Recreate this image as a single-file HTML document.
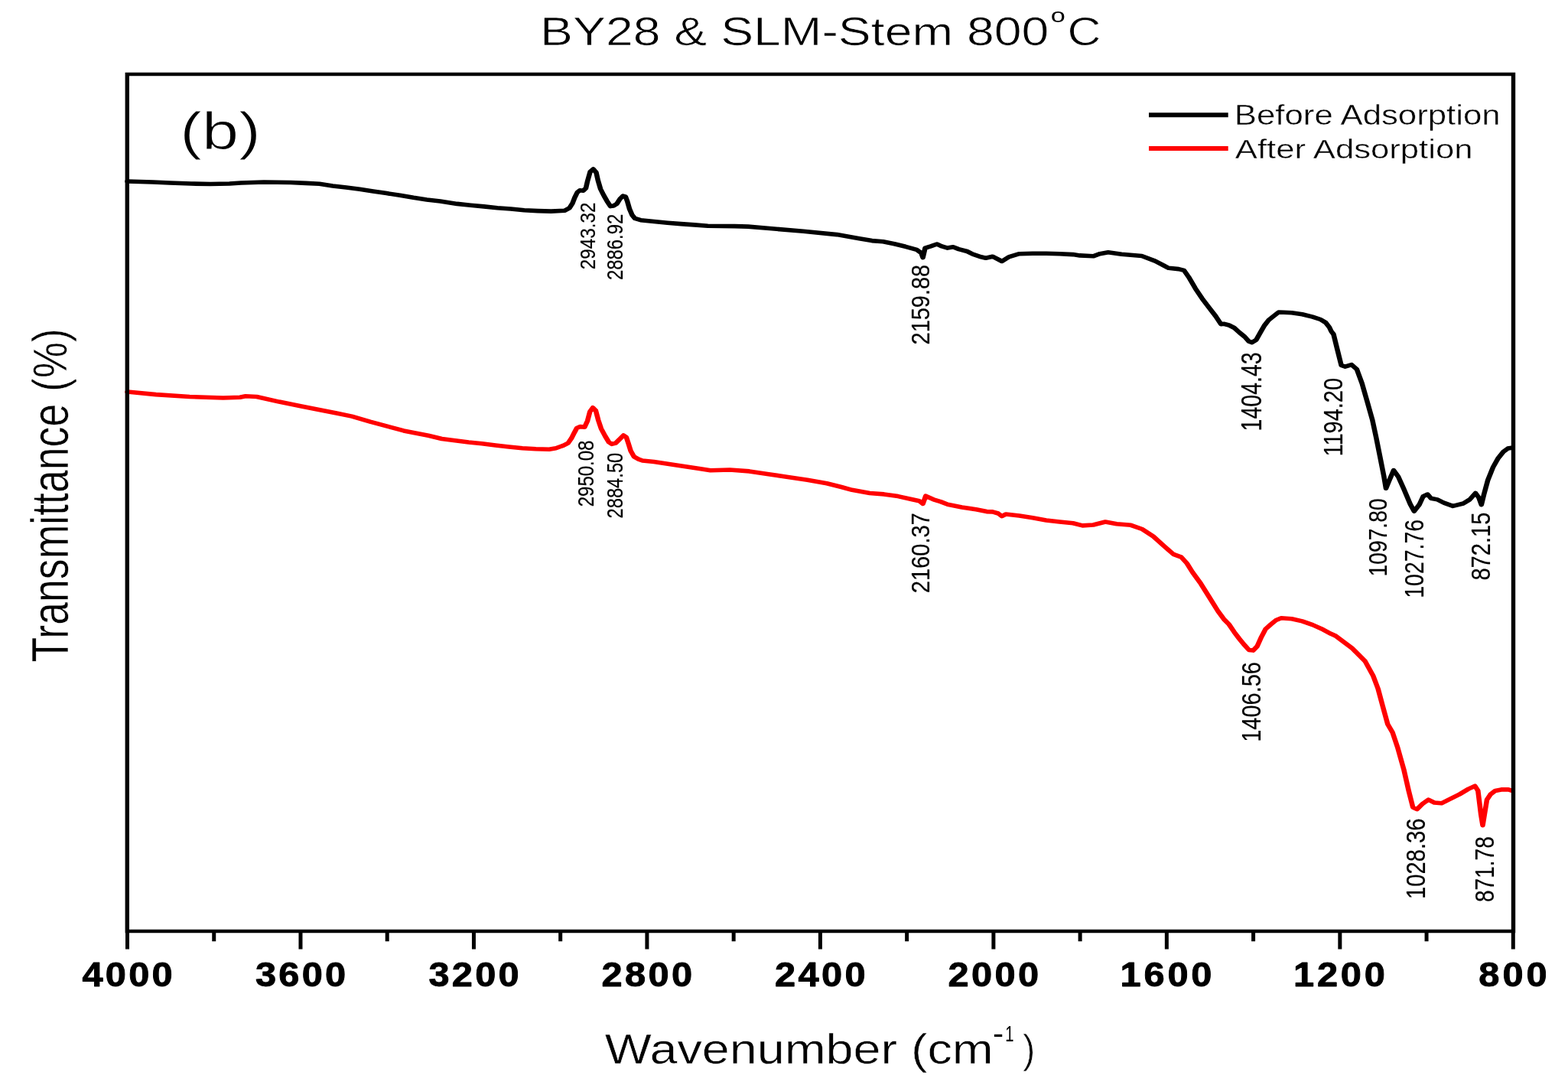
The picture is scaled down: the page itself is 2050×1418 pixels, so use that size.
<!DOCTYPE html><html><head><meta charset="utf-8"><title>BY28 &amp; SLM-Stem 800°C FTIR</title>
<style>html,body{margin:0;padding:0;background:#fff;width:2050px;height:1418px;overflow:hidden}svg{display:block}text{font-family:"Liberation Sans",Arial,sans-serif}</style></head><body>
<svg width="2050" height="1418" viewBox="0 0 2050 1418">
<rect width="2050" height="1418" fill="#fff"/>
<g transform="scale(1.17 1)" fill="none" stroke-linejoin="round" stroke-linecap="round">
<polyline stroke="#000" stroke-width="5.6" points="142.31,237 170.94,238 189.74,239 213.68,240 235.04,240.5 256.41,240 269.23,239 282.05,238.5 294.87,238 324.79,238.5 341.88,239.4 356.92,240.3 371.79,242.9 386.92,245.1 401.88,247.3 416.92,250 431.97,252.6 446.92,255.2 461.97,258.3 476.92,260.9 491.97,263.1 510.77,266.4 525.73,268.2 540.77,269.9 555.73,271.7 570.77,273 585.81,274.8 600.77,275.6 615.81,276.1 630.77,275.3 636.32,271.8 639.74,265.6 642.14,258.3 645.04,251.5 647.95,248.7 651.79,249.2 654.7,245.9 656.58,236.3 659.49,224.4 662.91,221 666.24,225.5 668.21,235.7 671.03,247 674.96,256 678.29,262.8 682.14,269.6 685.56,269 689.4,266.2 692.74,260 696.15,256 699.06,257.1 700.94,262.8 703.42,273 706.24,280.8 709.4,285.4 715.9,287.7 730.85,289.5 745.9,291.2 760.85,292.6 775.9,293.9 790.94,295.2 820.94,295.6 835.9,296.1 860.09,298.5 897.69,302.2 935.21,306.6 960.17,311.7 974.36,314.6 986.84,315.7 999.4,318.7 1011.88,322.3 1024.36,326.3 1029.4,330.7 1031.28,336.6 1033.76,324.1 1040,321.9 1046.92,319 1052.48,321.9 1058.8,324.1 1065.04,322.7 1071.28,325.6 1080.68,328.5 1086.92,332.2 1096.24,335.8 1101.54,337.2 1109.06,335.2 1119.57,341.5 1127.78,335.6 1139.06,331.7 1154.02,331.2 1169.06,331.2 1184.1,331.7 1199.06,332.6 1206.58,333.9 1221.62,334.8 1229.06,331.7 1238.29,329.7 1253.25,332.3 1275.81,334.5 1290.77,341.1 1305.81,350.3 1317.09,351.6 1323.08,353.4 1328.29,362.1 1335.81,377.1 1343.33,390.2 1350.85,401.7 1358.38,413.1 1364.36,423.6 1367.52,423.3 1373.33,425 1379.23,428.5 1385.04,434.6 1390.85,440.1 1395.56,446.2 1399.06,447.6 1403.68,444.2 1408.38,434.6 1413.08,425.1 1417.69,418.2 1423.59,412.8 1428.8,408 1434.7,408.3 1443.42,408.7 1455.13,410.7 1466.75,414.1 1475.56,417.5 1481.37,421.6 1485.47,427.8 1487.61,433 1490.17,436.9 1494.44,457.2 1498.8,477.5 1503.16,479.2 1510.34,476.7 1516.15,482.6 1521.97,501.2 1527.78,524.9 1533.5,548.6 1537.86,572.3 1542.22,597.7 1546.5,623 1548.72,638.3 1552.31,628.1 1557.35,614.6 1562.48,623 1568.38,638.3 1575.81,658.8 1580.17,668.1 1585.9,659.7 1590.26,648.7 1595.3,646.1 1598.97,651.2 1606.15,652.9 1613.42,657.1 1623.5,661.4 1635.13,658 1642.31,652.9 1648.8,644.4 1652.48,650.4 1655.38,659.7 1658.21,646.1 1662.56,627.5 1668.38,610.6 1674.1,598.8 1679.91,590.3 1684.96,586.1 1689.32,585.2"/>
<polyline stroke="#f00" stroke-width="5.6" points="142.31,512 174.27,515.6 211.79,518.5 249.32,520 268.12,519.3 274.36,517.8 286.84,518.5 311.88,525.1 336.92,531 361.88,536.8 376.07,540 393.16,544.1 413.59,551.2 451.11,562.9 478.63,569.3 493.68,573.5 508.63,575.8 523.68,578 538.63,579.7 553.68,581.9 568.72,584 583.68,585.8 598.72,586.7 613.68,587.2 621.2,585.8 626.5,583.5 629.32,582.3 634.79,579.1 638.55,572.8 641.88,565.2 644.53,559.5 648.38,557.6 653.25,558.2 656.5,549.9 659.23,537.9 662.48,532.8 665.73,536.6 668.46,548.7 671.71,560.1 676.07,569.6 680.34,577.9 683.59,580.4 687.95,579.1 692.31,574.1 696.67,569 699.91,571.5 702.05,579.1 704.79,589.3 708.55,596.9 713.5,600.1 717.95,602 730.77,603.5 750.43,607 782.99,612.8 793.85,614.7 815.47,614 837.18,615.9 858.89,619.7 880.51,623.5 902.22,627.3 923.93,631.8 940.17,636.5 952.05,640.3 971.88,644.5 987.69,645.9 1003.5,648.6 1019.4,652.8 1027.26,654.7 1031.28,658.4 1034.44,648.2 1043.16,652.8 1051.03,655.6 1058.97,659.3 1074.87,663 1090.68,665.8 1102.56,668.6 1109.06,668.9 1115.38,671 1119.57,674.6 1124.02,672 1139.06,674.1 1154.02,676.8 1169.06,679.9 1184.1,682 1199.06,683.8 1209.57,686.9 1221.62,686 1235.13,682 1247.86,684.7 1263.68,686.3 1276.24,691.5 1288.72,701 1301.2,714.1 1311.28,724.4 1320,728.1 1326.24,736.1 1332.48,747.8 1341.71,762.6 1351.37,780.6 1361.03,798.7 1367.52,809.1 1373.33,816 1379.23,826.2 1385.04,835.1 1390.85,843.3 1395.56,849.4 1400.26,850.1 1404.87,844.6 1409.57,832.3 1414.19,822.1 1420.09,816 1425.9,810.5 1431.71,807.8 1443.42,808.8 1455.13,811.9 1466.75,816.6 1478.46,822.8 1487.18,828.3 1492.82,831.3 1510.85,847.1 1525.38,864.1 1534.36,883.1 1539.83,900 1545.21,923.3 1550.68,946.6 1556.07,957.2 1561.54,976.2 1568.72,1005.9 1574.1,1033.4 1578.8,1055 1583.42,1057.6 1589.49,1050.6 1596.15,1045.1 1602.82,1049 1610.77,1049.8 1617.52,1045.9 1630.85,1038.1 1640.85,1031.1 1648.21,1027.2 1651.54,1033.4 1654.87,1064.6 1656.84,1078.7 1658.8,1064.6 1661.54,1045.1 1665.56,1038.1 1670.85,1033.4 1677.52,1031.9 1685.56,1031.9 1689.57,1033.4"/>
</g>
<path fill="#000" d="M163.6 94.7h1817.6v4.6h-1817.6zM163.6 1214.7h1817.6v4.6h-1817.6zM163.6 94.7h5.4v1124.6h-5.4zM1975.8 94.7h5.4v1124.6h-5.4zM164 1217h5v23.5h-5zM277.24 1217h5v13.3h-5zM390.48 1217h5v23.5h-5zM503.71 1217h5v13.3h-5zM616.95 1217h5v23.5h-5zM730.19 1217h5v13.3h-5zM843.42 1217h5v23.5h-5zM956.66 1217h5v13.3h-5zM1069.9 1217h5v23.5h-5zM1183.14 1217h5v13.3h-5zM1296.38 1217h5v23.5h-5zM1409.61 1217h5v13.3h-5zM1522.85 1217h5v23.5h-5zM1636.09 1217h5v13.3h-5zM1749.33 1217h5v23.5h-5zM1862.56 1217h5v13.3h-5zM1975.8 1217h5v23.5h-5z"/>
<path d="M1502 150.3H1605.7" stroke="#000" stroke-width="6"/>
<path d="M1502 194H1605.7" stroke="#f00" stroke-width="6"/>
<text transform="translate(706.1 58.94) scale(0.6434 0.5244)" font-size="100" fill="#000" stroke="#fff" stroke-width="1.4" stroke-linejoin="round">BY28 &amp; SLM-Stem 800</text>
<text transform="translate(1373.63 28.94) scale(0.3426 0.2600)" font-size="100" fill="#000">o</text>
<text transform="translate(1395.61 58.67) scale(0.6079 0.5193)" font-size="100" fill="#000" stroke="#fff" stroke-width="1.48" stroke-linejoin="round">C</text>
<text transform="translate(235.21 194.84) scale(0.8645 0.6824)" font-size="100" fill="#000" stroke="#fff" stroke-width="1.39" stroke-linejoin="round">(b)</text>
<text transform="translate(1613.85 162.71) scale(0.4376 0.3657)" font-size="100" fill="#000" stroke="#fff" stroke-width="1.14" stroke-linejoin="round">Before Adsorption</text>
<text transform="translate(1614.85 206.71) scale(0.4366 0.3584)" font-size="100" fill="#000" stroke="#fff" stroke-width="1.15" stroke-linejoin="round">After Adsorption</text>
<text transform="translate(790.85 1390.26) scale(0.6468 0.5542)" font-size="100" fill="#000" stroke="#fff" stroke-width="0.93" stroke-linejoin="round">Wavenumber (cm</text>
<text transform="translate(1297.9 1364.2) scale(0.4240 0.4000)" font-size="100" fill="#000">-</text>
<text transform="translate(1314.18 1361) scale(0.2023 0.3014)" font-size="100" fill="#000">1</text>
<text transform="translate(1337.32 1389.44) scale(0.4808 0.5132)" font-size="100" fill="#000" stroke="#fff" stroke-width="1.25" stroke-linejoin="round">)</text>
<text transform="translate(88.7 865.41) scale(0.6892 0.5362) rotate(-90)" font-size="100" fill="#000" stroke="#fff" stroke-width="0.87" stroke-linejoin="round">Transmittance</text>
<text transform="translate(86.85 511.72) scale(0.6309 0.5287) rotate(-90)" font-size="100" fill="#000" stroke="#fff" stroke-width="0.95" stroke-linejoin="round">(%)</text>
<text transform="translate(778.42 352.13) scale(0.2817 0.2425) rotate(-90)" font-size="100" fill="#000" stroke="#000" stroke-width="0.71" stroke-linejoin="round">2943.32</text>
<text transform="translate(814.01 366.11) scale(0.2873 0.2391) rotate(-90)" font-size="100" fill="#000" stroke="#000" stroke-width="0.7" stroke-linejoin="round">2886.92</text>
<text transform="translate(1215.17 450.46) scale(0.3268 0.2896) rotate(-90)" font-size="100" fill="#000" stroke="#000" stroke-width="0.61" stroke-linejoin="round">2159.88</text>
<text transform="translate(1648.64 563.4) scale(0.3634 0.2852) rotate(-90)" font-size="100" fill="#000" stroke="#000" stroke-width="0.55" stroke-linejoin="round">1404.43</text>
<text transform="translate(1754.75 596.44) scale(0.3549 0.2896) rotate(-90)" font-size="100" fill="#000" stroke="#000" stroke-width="0.56" stroke-linejoin="round">1194.20</text>
<text transform="translate(1812.87 753.48) scale(0.3324 0.2826) rotate(-90)" font-size="100" fill="#000" stroke="#000" stroke-width="0.6" stroke-linejoin="round">1097.80</text>
<text transform="translate(1860.84 781.7) scale(0.3563 0.2844) rotate(-90)" font-size="100" fill="#000" stroke="#000" stroke-width="0.56" stroke-linejoin="round">1027.76</text>
<text transform="translate(1948.24 758.58) scale(0.3563 0.2914) rotate(-90)" font-size="100" fill="#000" stroke="#000" stroke-width="0.56" stroke-linejoin="round">872.15</text>
<text transform="translate(775.81 662.32) scale(0.2873 0.2402) rotate(-90)" font-size="100" fill="#000" stroke="#000" stroke-width="0.7" stroke-linejoin="round">2950.08</text>
<text transform="translate(813.81 677.5) scale(0.2859 0.2376) rotate(-90)" font-size="100" fill="#000" stroke="#000" stroke-width="0.7" stroke-linejoin="round">2884.50</text>
<text transform="translate(1214.97 775.27) scale(0.3310 0.2907) rotate(-90)" font-size="100" fill="#000" stroke="#000" stroke-width="0.6" stroke-linejoin="round">2160.37</text>
<text transform="translate(1648.45 969.73) scale(0.3521 0.2895) rotate(-90)" font-size="100" fill="#000" stroke="#000" stroke-width="0.57" stroke-linejoin="round">1406.56</text>
<text transform="translate(1863.45 1174.95) scale(0.3479 0.2921) rotate(-90)" font-size="100" fill="#000" stroke="#000" stroke-width="0.57" stroke-linejoin="round">1028.36</text>
<text transform="translate(1953.35 1179.04) scale(0.3479 0.2809) rotate(-90)" font-size="100" fill="#000" stroke="#000" stroke-width="0.57" stroke-linejoin="round">871.78</text>
<text transform="translate(107.52 1289.4) scale(0.4879 0.4435)" font-size="100" font-weight="bold" letter-spacing="6.57" fill="#000" stroke="#000" stroke-width="2.05" stroke-linejoin="round">4000</text>
<text transform="translate(334 1289.4) scale(0.4879 0.4435)" font-size="100" font-weight="bold" letter-spacing="6.57" fill="#000" stroke="#000" stroke-width="2.05" stroke-linejoin="round">3600</text>
<text transform="translate(560.47 1289.4) scale(0.4879 0.4435)" font-size="100" font-weight="bold" letter-spacing="6.57" fill="#000" stroke="#000" stroke-width="2.05" stroke-linejoin="round">3200</text>
<text transform="translate(786.46 1289.4) scale(0.4879 0.4435)" font-size="100" font-weight="bold" letter-spacing="6.9" fill="#000" stroke="#000" stroke-width="2.05" stroke-linejoin="round">2800</text>
<text transform="translate(1012.94 1289.4) scale(0.4879 0.4435)" font-size="100" font-weight="bold" letter-spacing="6.9" fill="#000" stroke="#000" stroke-width="2.05" stroke-linejoin="round">2400</text>
<text transform="translate(1239.41 1289.4) scale(0.4879 0.4435)" font-size="100" font-weight="bold" letter-spacing="6.9" fill="#000" stroke="#000" stroke-width="2.05" stroke-linejoin="round">2000</text>
<text transform="translate(1464.42 1289.4) scale(0.4879 0.4435)" font-size="100" font-weight="bold" letter-spacing="7.9" fill="#000" stroke="#000" stroke-width="2.05" stroke-linejoin="round">1600</text>
<text transform="translate(1690.9 1289.4) scale(0.4879 0.4435)" font-size="100" font-weight="bold" letter-spacing="7.9" fill="#000" stroke="#000" stroke-width="2.05" stroke-linejoin="round">1200</text>
<text transform="translate(1933.34 1289.4) scale(0.4879 0.4435)" font-size="100" font-weight="bold" letter-spacing="8.14" fill="#000" stroke="#000" stroke-width="2.05" stroke-linejoin="round">800</text>
</svg></body></html>
